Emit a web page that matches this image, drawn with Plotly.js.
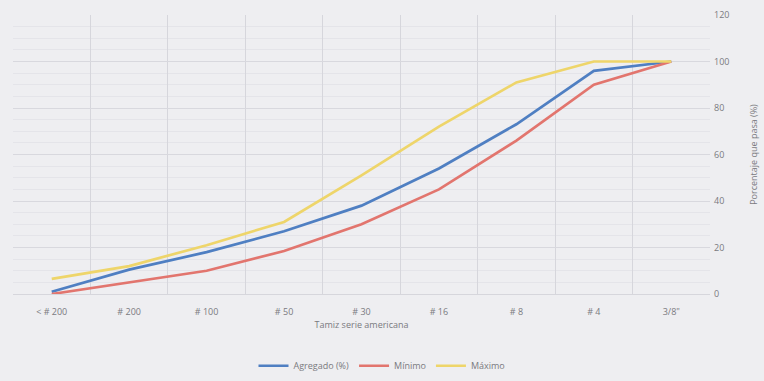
<!DOCTYPE html>
<html>
<head>
<meta charset="utf-8">
<script src="https://cdn.plot.ly/plotly-3.0.1.min.js"></script>
<style>html,body{margin:0;padding:0;background:#eeeef1;}#chart{width:764px;height:381px;}</style>
</head>
<body>
<div id="chart"></div>
<script>
const categories = ['< # 200', '# 200', '# 100', '# 50', '# 30', '# 16', '# 8', '# 4', '3/8"'];
const agregado = [1, 10.5, 18, 27, 38, 54, 73, 96, 100];
const minimo = [0, 5, 10, 18.5, 30, 45, 66, 90, 100];
const maximo = [6.5, 12, 21, 31, 51, 72, 91, 100, 100];
const seriesNames = ['Agregado (%)', 'Mínimo', 'Máximo'];
const yTicks = [0, 20, 40, 60, 80, 100, 120];

const font = {family: 'Open Sans, Liberation Sans, sans-serif', size: 9, color: '#7a7a80'};
function tr(y, name, color) {
  return {x: categories, y: y, name: name, type: 'scatter', mode: 'lines',
          line: {color: color, width: 2.7}};
}
const data = [
  tr(agregado, seriesNames[0], '#4f7fc2'),
  tr(minimo, seriesNames[1], '#e2756e'),
  tr(maximo, seriesNames[2], '#eed56a')
];
const layout = {
  width: 764, height: 381,
  paper_bgcolor: '#eeeef1', plot_bgcolor: '#eeeef1',
  margin: {l: 13, r: 54, t: 15, b: 87},
  font: font,
  showlegend: true,
  legend: {orientation: 'h', x: 0.5, xanchor: 'center', xref: 'container',
           y: 0.04, yanchor: 'middle', yref: 'container',
           font: font, bgcolor: 'rgba(0,0,0,0)'},
  xaxis: {type: 'category', range: [-0.5, 8.5], tickson: 'boundaries', automargin: false,
          showgrid: true, gridcolor: '#d6d6dc', gridwidth: 1,
          ticks: '', showline: true, linecolor: '#d6d6dc',
          tickfont: font, ticklabelstandoff: 9, fixedrange: true,
          title: {text: 'Tamiz serie americana', font: font, standoff: 4}},
  yaxis: {side: 'right', range: [0, 120], tickvals: yTicks, ticktext: yTicks.map(String),
          automargin: false,
          showgrid: true, gridcolor: '#d8d8de', gridwidth: 1, zeroline: false,
          minor: {dtick: 5, showgrid: true, gridcolor: '#e4e4e9', gridwidth: 1},
          ticks: '', showline: false, tickfont: font, ticklabelstandoff: 3,
          title: {text: 'Porcentaje que pasa (%)', font: font, standoff: 22}}
};
Plotly.newPlot('chart', data, layout, {staticPlot: true});
</script>
</body>
</html>
